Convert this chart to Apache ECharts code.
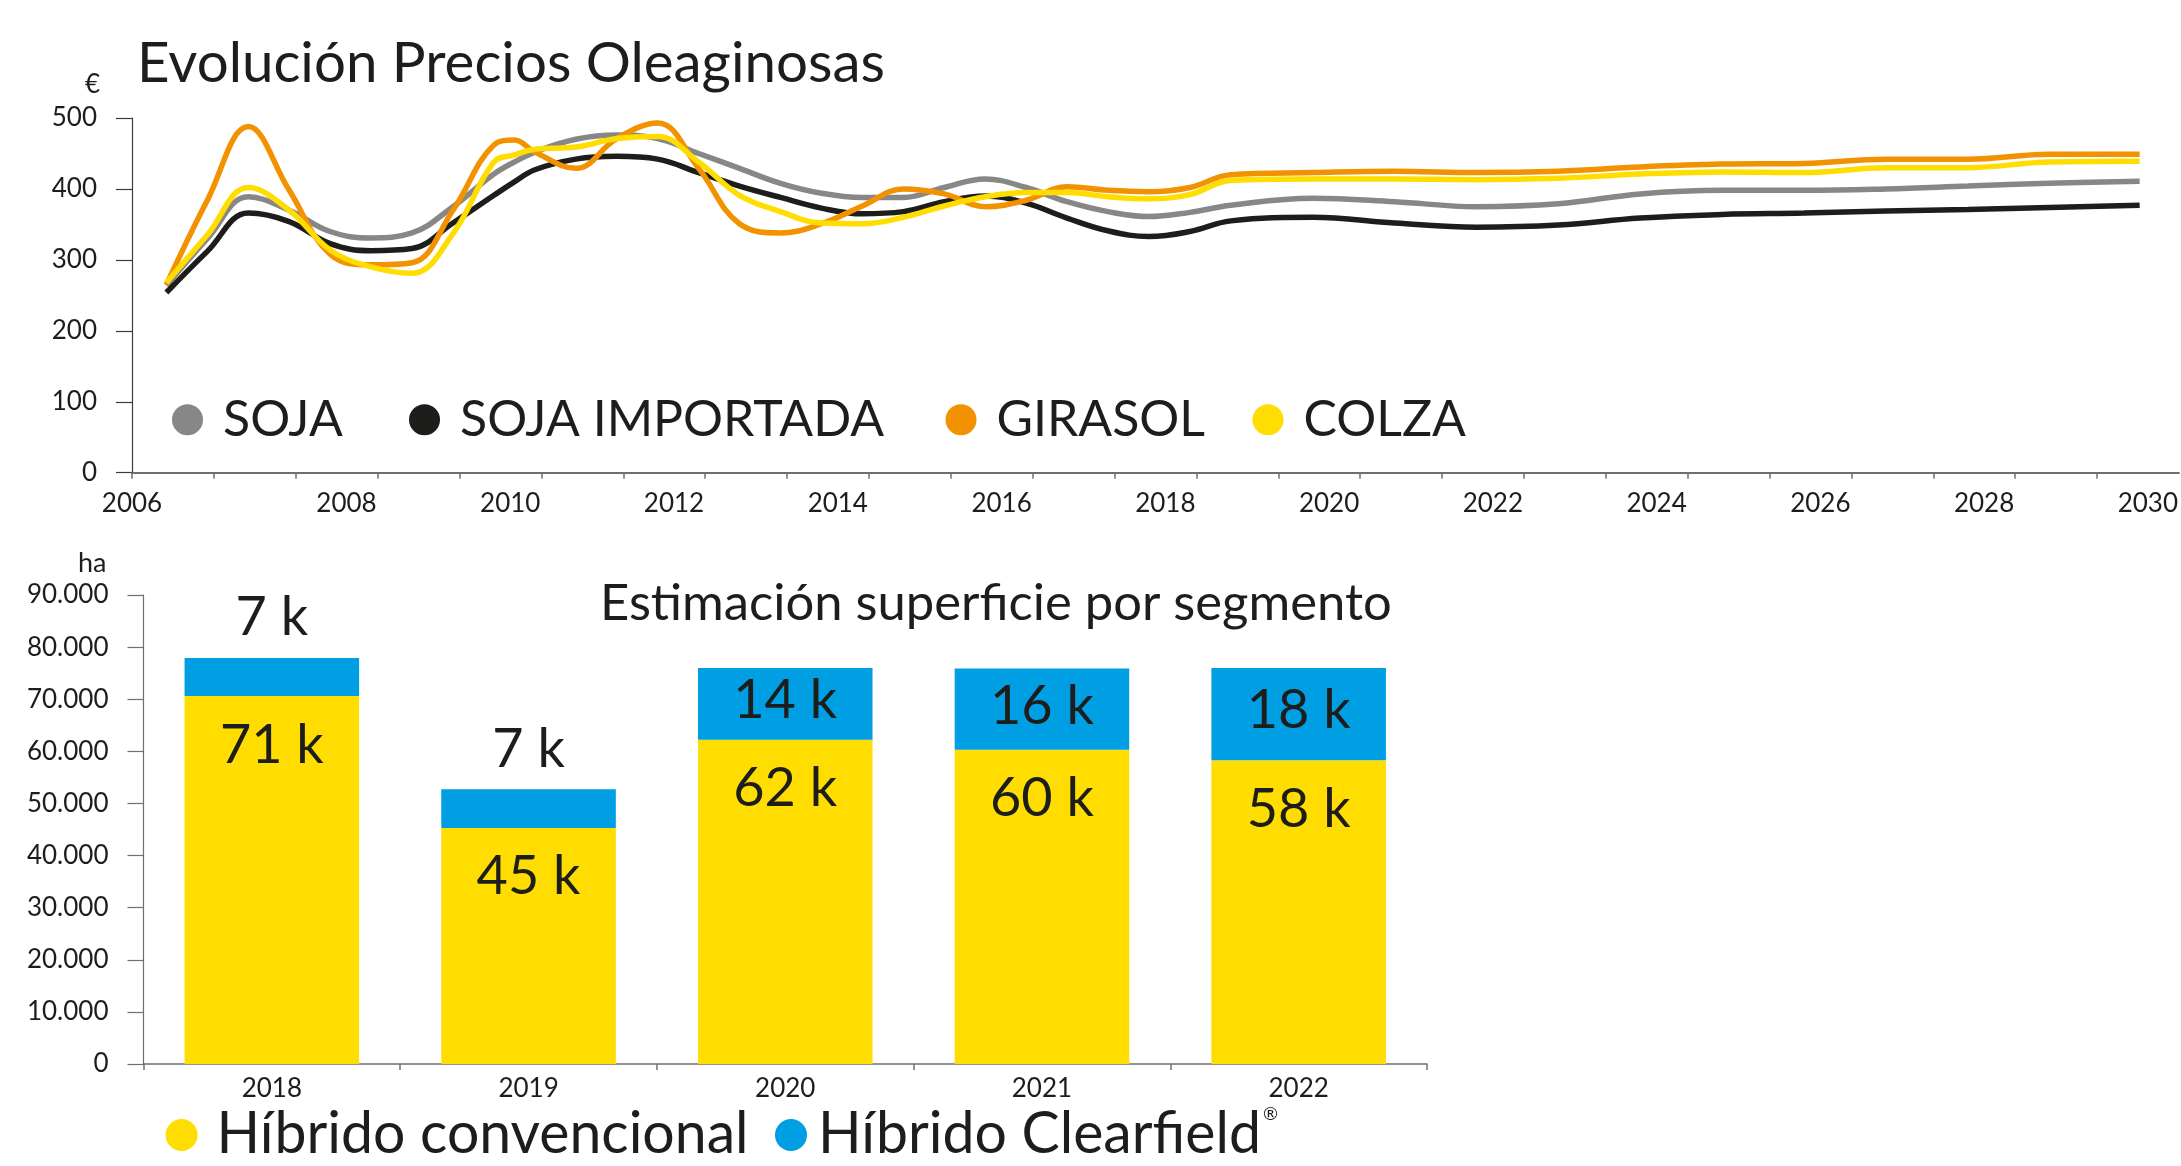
<!DOCTYPE html>
<html>
<head>
<meta charset="utf-8">
<script src="https://cdn.jsdelivr.net/npm/echarts@6/dist/echarts.min.js"></script>
<style>
html,body{margin:0;padding:0;background:#fff;}
#chart{width:2181px;height:1166px;}
</style>
</head>
<body>
<div id="chart"></div>
<script>
// ---------------- DATA ----------------
const priceYears = [2005.8, 2006.3, 2006.8, 2007.3, 2007.8, 2008.3, 2008.8, 2009.3, 2009.8, 2010.05, 2010.3, 2010.8,
  2011.3, 2011.8, 2012.3, 2012.8, 2013.3, 2013.8, 2014.3, 2014.8, 2015.3, 2015.8, 2016.3, 2016.8, 2017.3, 2017.8,
  2018.3, 2018.8, 2019.8, 2020.8, 2021.8, 2022.8, 2023.8, 2024.8, 2025.8, 2026.8, 2027.8, 2028.8, 2029.9];
const soja = [264, 330, 389, 370, 340, 331, 338, 375, 421, 438, 452, 470,
  476, 471, 450, 429, 408, 394, 388, 388, 402, 414, 402, 382, 368, 361,
  367, 377, 387, 382, 375, 379, 393, 398, 398, 400, 404, 408, 411];
const sojaImportada = [254, 312, 366, 354, 323, 313, 316, 352, 391, 410, 427, 442,
  446, 442, 423, 404, 388, 373, 365, 368, 382, 390, 380, 359, 341, 333,
  340, 355, 360, 352, 346, 349, 359, 364, 366, 369, 371, 374, 377];
const girasol = [265, 384, 488, 398, 308, 293, 296, 370, 462, 469, 452, 429,
  471, 493, 429, 351, 338, 351, 376, 400, 393, 375, 384, 403, 398, 396,
  402, 420, 423, 425, 423, 425, 431, 435, 436, 442, 442, 449, 449];
const colza = [268, 335, 402, 370, 314, 290, 281, 337, 438, 448, 456, 459,
  471, 474, 438, 391, 368, 352, 351, 360, 376, 389, 395, 395, 389, 386,
  392, 412, 414, 414, 413, 415, 421, 424, 423, 430, 430, 438, 439];
const priceSeriesNames = ['SOJA', 'SOJA IMPORTADA', 'GIRASOL', 'COLZA'];
const priceXLabels = [2006, 2008, 2010, 2012, 2014, 2016, 2018, 2020, 2022, 2024, 2026, 2028, 2030];

const barCategories = ['2018', '2019', '2020', '2021', '2022'];
const hibridoConvencional = [70600, 45300, 62200, 60300, 58300];
const hibridoClearfield = [7300, 7400, 13800, 15600, 17700];
const barSeriesNames = ['Híbrido convencional', 'Híbrido Clearfield'];

// ---------------- STYLE ----------------
const FONT = 'Lato';
const TEXT = '#1d1d1b';
const AXIS = '#706f6f';
const C_GRAY = '#878787', C_BLACK = '#1d1d1b', C_ORANGE = '#f39200', C_YELLOW = '#ffdd00', C_BLUE = '#009fe3';

const mctx = document.createElement('canvas').getContext('2d');
function fitSize(texts, target) {
  mctx.font = '100px ' + FONT;
  const w = texts.reduce((s, t) => s + mctx.measureText(t).width, 0);
  return 100 * target / w;
}

const titleTopSize = fitSize(['Evolución Precios Oleaginosas'], 748);
const titleBotSize = fitSize(['Estimación superficie por segmento'], 792);
const legTopSize = fitSize(priceSeriesNames, 915);
const legBotSize = fitSize(barSeriesNames, 975);

const xMin = 2005.38, xMax = 2030.38;
const tickVals = [];
for (let i = 0; i < 25; i++) tickVals.push(+(xMin + i).toFixed(2));
const labelVals = priceXLabels.map(y => (y === 2006 ? xMin : y));

const chart = echarts.init(document.getElementById('chart'), null, {renderer: 'canvas'});

function lineSeries(name, vals, color) {
  return {
    name, type: 'line', xAxisIndex: 0, yAxisIndex: 0,
    data: priceYears.map((y, i) => [y, vals[i]]),
    smooth: 0.4, showSymbol: false, symbol: 'circle',
    lineStyle: {color, width: 5.5}, itemStyle: {color},
    z: 3
  };
}

const legendTopPos = [167, 404, 940.5, 1247.5];
const legends = priceSeriesNames.map((n, i) => ({
  data: [n], left: legendTopPos[i], top: 384.7, orient: 'horizontal',
  icon: 'circle', itemWidth: 31, itemHeight: 31,
  textStyle: {fontFamily: FONT, fontSize: legTopSize, lineHeight: 60, color: TEXT, padding: [0, 0, 0, 15]},
  selectedMode: false
}));
legends.push({
  data: [barSeriesNames[0]], left: 160.6, top: 1100, icon: 'circle', itemWidth: 32, itemHeight: 32,
  textStyle: {fontFamily: FONT, fontSize: legBotSize, lineHeight: 60, color: TEXT, padding: [0, 0, 0, 14]},
  selectedMode: false
});
legends.push({
  data: [barSeriesNames[1]], left: 770, top: 1100, icon: 'circle', itemWidth: 32, itemHeight: 32,
  formatter: n => n + '{sup|®}',
  textStyle: {fontFamily: FONT, fontSize: legBotSize, lineHeight: 60, color: TEXT, padding: [0, 0, 0, 6],
    rich: {sup: {fontFamily: FONT, fontSize: 18, color: TEXT, verticalAlign: 'top', lineHeight: 20, padding: [0, 0, 0, 2]}}},
  selectedMode: false
});

const axisLabelStyle = {fontFamily: FONT, fontSize: 26, color: TEXT};

const option = {
  backgroundColor: '#ffffff',
  animation: false,
  textStyle: {fontFamily: FONT},
  title: [
    {text: 'Evolución Precios Oleaginosas', left: 132, top: 58.5 - titleTopSize * 0.6,
      textStyle: {fontFamily: FONT, fontWeight: 'normal', fontSize: titleTopSize, lineHeight: titleTopSize * 1.2, color: TEXT}},
    {text: 'Estimación superficie por segmento', left: 595, top: 599 - titleBotSize * 0.6,
      textStyle: {fontFamily: FONT, fontWeight: 'normal', fontSize: titleBotSize, lineHeight: titleBotSize * 1.2, color: TEXT}}
  ],
  legend: legends,
  graphic: [
    {type: 'text', left: 85, top: 72, style: {text: '€', font: '26px ' + FONT, fill: TEXT}},
    {type: 'text', left: 78, top: 550, style: {text: 'ha', font: '27px ' + FONT, fill: TEXT}}
  ],
  grid: [
    {left: 132, right: 0, top: 118, bottom: 1166 - 472.7},
    {left: 143.5, right: 2181 - 1427, top: 595, bottom: 1166 - 1064}
  ],
  xAxis: [
    {
      gridIndex: 0, type: 'value', min: xMin, max: xMax,
      axisLine: {show: true, lineStyle: {color: AXIS, width: 2}},
      axisTick: {show: true, length: 6, customValues: tickVals, lineStyle: {color: AXIS, width: 1.5}},
      axisLabel: {show: true, customValues: labelVals, margin: 18, ...axisLabelStyle,
        formatter: v => (v < 2006 ? '2006' : String(Math.round(v)))},
      splitLine: {show: false}
    },
    {
      gridIndex: 1, type: 'category', data: barCategories,
      axisLine: {show: true, lineStyle: {color: AXIS, width: 1.5}},
      axisTick: {show: true, length: 6, alignWithLabel: false, lineStyle: {color: AXIS, width: 1.5}},
      axisLabel: {margin: 12, ...axisLabelStyle}
    }
  ],
  yAxis: [
    {
      gridIndex: 0, type: 'value', min: 0, max: 500, interval: 100,
      axisLine: {show: true, lineStyle: {color: '#3c3c3b', width: 1.2}},
      axisTick: {show: true, length: 16, lineStyle: {color: '#3c3c3b', width: 1.2}},
      axisLabel: {margin: 35, ...axisLabelStyle},
      splitLine: {show: false}
    },
    {
      gridIndex: 1, type: 'value', min: 0, max: 90000, interval: 10000,
      axisLine: {show: true, lineStyle: {color: AXIS, width: 1.2}},
      axisTick: {show: true, length: 16, lineStyle: {color: AXIS, width: 1.2}},
      axisLabel: {margin: 35, ...axisLabelStyle,
        formatter: v => (v === 0 ? '0' : (v / 1000).toFixed(0) + '.000')},
      splitLine: {show: false}
    }
  ],
  series: [
    lineSeries(priceSeriesNames[0], soja, C_GRAY),
    lineSeries(priceSeriesNames[1], sojaImportada, C_BLACK),
    lineSeries(priceSeriesNames[2], girasol, C_ORANGE),
    lineSeries(priceSeriesNames[3], colza, C_YELLOW),
    {
      name: barSeriesNames[0], type: 'bar', xAxisIndex: 1, yAxisIndex: 1, stack: 'sup',
      barWidth: '68%', data: hibridoConvencional,
      itemStyle: {color: C_YELLOW},
      label: {show: true, position: 'insideTop', distance: 22, fontFamily: FONT, fontSize: 54, color: TEXT,
        formatter: p => Math.round(p.value / 1000) + ' k'}
    },
    {
      name: barSeriesNames[1], type: 'bar', xAxisIndex: 1, yAxisIndex: 1, stack: 'sup',
      barWidth: '68%',
      data: hibridoClearfield.map(v => ({
        value: v,
        label: v < 10000 ? {position: 'top', distance: 13} : {position: 'inside', offset: [0, -3]}
      })),
      itemStyle: {color: C_BLUE},
      label: {show: true, fontFamily: FONT, fontSize: 54, color: TEXT,
        formatter: p => Math.round(p.value / 1000) + ' k'}
    }
  ]
};
chart.setOption(option);
</script>
</body>
</html>
